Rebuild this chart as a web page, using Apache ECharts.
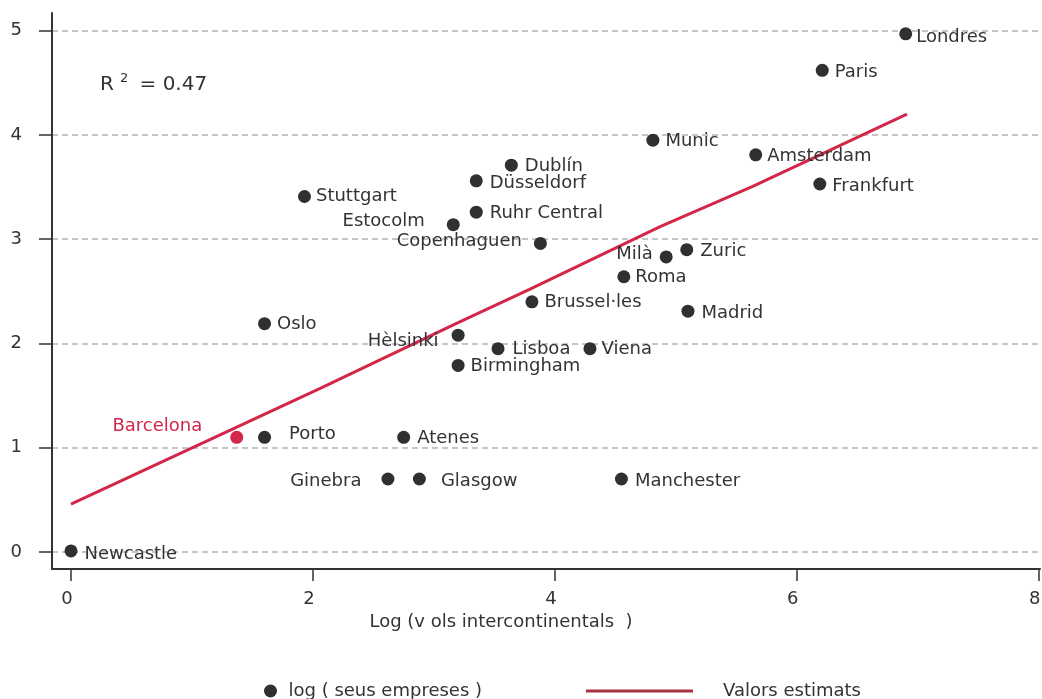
<!DOCTYPE html>
<html>
<head>
<meta charset="utf-8">
<script src="https://cdn.jsdelivr.net/npm/echarts@6/dist/echarts.min.js"></script>
<style>
html,body{margin:0;padding:0;background:#fff;}
#chart{width:1042px;height:699px;}
</style>
</head>
<body>
<div id="chart"></div>
<script>
// ---- Data ----
var cities = ['Londres','Paris','Munic','Amsterdam','Frankfurt','Dublín','Düsseldorf','Stuttgart','Ruhr Central','Estocolm','Copenhaguen','Milà','Zuric','Roma','Brussel·les','Madrid','Oslo','Hèlsinki','Lisboa','Viena','Birmingham','Barcelona','Porto','Atenes','Ginebra','Glasgow','Manchester','Newcastle'];
var logFlights = [6.90,6.21,4.81,5.66,6.19,3.64,3.35,1.93,3.35,3.16,3.88,4.92,5.09,4.57,3.81,5.10,1.60,3.20,3.53,4.29,3.20,1.37,1.60,2.75,2.62,2.88,4.55,0.00];
var logCompanies = [4.97,4.62,3.95,3.81,3.53,3.71,3.56,3.41,3.26,3.14,2.96,2.83,2.90,2.64,2.40,2.31,2.19,2.08,1.95,1.95,1.79,1.10,1.10,1.10,0.70,0.70,0.70,0.01];
var fitX = [0.00,2.06,3.20,3.79,4.87,5.64,6.91];
var fitY = [0.46,1.57,2.20,2.52,3.12,3.51,4.20];
var xTicks = [0,2,4,6,8];
var yTicks = [0,1,2,3,4,5];
var highlightCity = 'Barcelona';
var r2Value = '0.47';

// ---- Label placement (style, not data) ----
var labelPlace = {
  'Londres':['right',4,3],'Paris':['right',6,2],'Munic':['right',6,1],'Amsterdam':['right',5,2],
  'Frankfurt':['right',6,2],'Dublín':['right',7,1],'Düsseldorf':['right',7,2],'Stuttgart':['right',5,0],
  'Ruhr Central':['right',7,1],'Estocolm':['left',22,-3],'Copenhaguen':['left',12,-2],'Milà':['left',7,-3],
  'Zuric':['right',7,2],'Roma':['right',5,1],'Brussel·les':['right',6,1],'Madrid':['right',7,2],
  'Oslo':['right',6,1],'Hèlsinki':['left',13,6],'Lisboa':['right',8,1],'Viena':['right',5,1],
  'Birmingham':['right',6,1],'Barcelona':['left',28,-11],'Porto':['right',18,-3],'Atenes':['right',7,1],
  'Ginebra':['left',20,2],'Glasgow':['right',15,2],'Manchester':['right',7,2],'Newcastle':['right',7,3]
};

var FONT = 'DejaVu Sans, Verdana, sans-serif';
var DOT = '#303030';
var RED = '#d2274a';
var TXT = '#333333';

var scatterData = cities.map(function(c,i){
  var p = labelPlace[c] || ['right',6,0];
  var isHi = c === highlightCity;
  return {
    name: c,
    value: [logFlights[i], logCompanies[i]],
    itemStyle: {color: isHi ? RED : DOT, opacity: 1},
    label: {
      show: true, formatter: c, position: p[0], distance: p[1], offset: [0, p[2]],
      color: isHi ? RED : TXT, fontSize: 18, fontFamily: FONT
    }
  };
});
var lineData = fitX.map(function(x,i){ return [x, fitY[i]]; });

var chart = echarts.init(document.getElementById('chart'), null, {renderer:'canvas'});
chart.setOption({
  animation: false,
  backgroundColor: '#ffffff',
  grid: {left: 52, right: 2, top: 13, bottom: 130, containLabel: false, outerBoundsMode: 'none'},
  xAxis: {
    type: 'value', min: -0.157, max: 8.01,
    axisLine: {onZero: false, lineStyle: {color: '#333', width: 2}},
    axisTick: {customValues: xTicks, length: 12, lineStyle: {color: '#333', width: 1.5}},
    axisLabel: {customValues: xTicks, margin: 21, fontSize: 18, color: TXT, fontFamily: FONT, padding: [0, 8, 0, 0]},
    splitLine: {show: false},
    name: 'Log (v ols intercontinentals  )',
    nameLocation: 'middle', nameGap: 42,
    nameTextStyle: {fontSize: 18, color: TXT, fontFamily: FONT, padding: [0, 90, 0, 0]}
  },
  yAxis: {
    type: 'value', min: -0.163, max: 5.17,
    axisLine: {show: true, onZero: false, lineStyle: {color: '#333', width: 2}},
    axisTick: {show: true, customValues: yTicks, length: 13, lineStyle: {color: '#333', width: 1.5}},
    axisLabel: {customValues: yTicks, margin: 30, fontSize: 18, color: TXT, fontFamily: FONT, padding: [0, 0, 5, 0]},
    splitLine: {show: true, lineStyle: {type: [6, 4], color: '#c4c4c4', width: 2}}
  },
  legend: [
    {
      data: [{name: 'log ( seus empreses )', icon: 'circle'}],
      left: 259, top: 677, itemWidth: 14, itemHeight: 13,
      itemStyle: {color: DOT},
      textStyle: {fontSize: 18, color: TXT, fontFamily: FONT, padding: [0, 0, 0, 6]}
    },
    {
      data: [{name: 'Valors estimats', icon: 'rect'}],
      left: 581, top: 677, itemWidth: 107, itemHeight: 3,
      itemStyle: {color: '#a8303f'},
      textStyle: {fontSize: 18, color: TXT, fontFamily: FONT, padding: [0, 0, 0, 25]}
    }
  ],
  graphic: [{
    type: 'text', left: 100, top: 72,
    style: {
      text: 'R{sup|2} = ' + r2Value,
      font: '20px ' + FONT, fill: TXT,
      rich: {sup: {fontSize: 13, fontFamily: FONT, verticalAlign: 'top', padding: [0, 5, 12, 6], fill: TXT}}
    }
  }],
  series: [
    {
      name: 'log ( seus empreses )', type: 'scatter', symbol: 'circle', symbolSize: 13,
      itemStyle: {opacity: 1},
      data: scatterData, z: 3
    },
    {
      name: 'Valors estimats', type: 'line', data: lineData, symbol: 'none', showSymbol: false,
      lineStyle: {color: RED, width: 3}, itemStyle: {color: RED}, z: 2
    }
  ]
});
</script>
</body>
</html>
